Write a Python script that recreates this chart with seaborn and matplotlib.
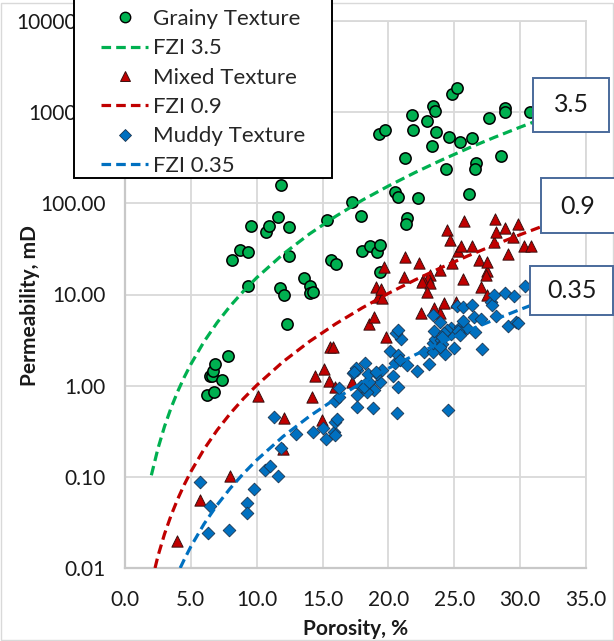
import matplotlib
matplotlib.use("Agg")
import matplotlib.pyplot as plt
import seaborn as sns
import pandas as pd
from matplotlib.patches import Rectangle
from matplotlib.lines import Line2D
from matplotlib.ticker import FixedLocator, NullLocator

# ---------------- data ----------------
grainy_phi = [6.21, 6.72, 6.47, 6.60, 6.67, 6.85, 7.36, 7.79, 8.14, 8.70, 9.34, 9.31, 9.57,
              10.71, 10.91, 11.62, 11.85, 11.80, 12.10, 12.30, 12.48, 12.48, 13.60, 14.08,
              14.03, 14.28, 15.35, 15.65, 16.03, 17.20, 17.88, 17.96, 18.59, 19.10, 19.35,
              19.35, 19.25, 19.73, 20.50, 20.75, 21.26, 21.39, 21.31, 21.82, 21.89, 22.27,
              22.93, 23.31, 23.39, 23.54, 23.59, 24.35, 24.63, 24.83, 25.21, 25.42, 26.10,
              26.33, 26.66, 26.61, 27.60, 28.52, 28.82, 28.87, 30.72]
grainy_k = [0.80, 0.85, 1.28, 1.28, 1.46, 1.73, 1.15, 2.1, 24, 31, 29, 12.4, 57,
            49, 56, 70, 157, 11.7, 9.9, 4.7, 55, 26.5, 15, 12.4,
            10.4, 10.7, 65, 24, 21.5, 104, 73, 29.9, 33.9, 29.1, 35.0,
            17.7, 571, 643, 132, 117, 318, 69, 59, 940, 632, 114,
            800, 422, 1166, 1021, 611, 240, 533, 1567, 1825, 470, 125,
            526, 280, 240, 861, 334, 1119, 1002, 1013]

mixed_phi = [3.98, 5.71, 7.99, 10.12, 11.97, 12.05, 14.18, 14.46, 14.97, 15.09, 15.47, 15.98,
             17.22, 15.53, 15.78, 18.52, 18.90, 19.79, 19.20, 19.53, 19.03, 19.41, 19.66,
             21.26, 21.18, 22.32, 22.45, 23.16, 23.00, 22.66, 22.58, 23.16, 22.91, 23.46,
             23.92, 24.22, 25.11, 23.92, 24.83, 24.48, 24.68, 25.29, 25.49, 25.67, 25.75,
             26.38, 26.84, 27.02, 27.47, 27.47, 27.42, 27.52, 28.03, 28.18, 28.10, 28.87,
             29.05, 29.43, 29.81, 30.31, 30.82]
mixed_k = [0.020, 0.056, 0.101, 0.776, 0.201, 0.447, 0.746, 1.29, 0.421, 1.51, 1.13, 0.975,
           1.11, 2.67, 2.67, 4.8, 5.7, 3.39, 9.4, 9.2, 12.0, 11.4, 20.1,
           25.9, 15.6, 21.9, 6.2, 16.3, 15.0, 14.4, 13.6, 13.4, 10.7, 7.2,
           6.3, 8.0, 8.3, 18.5, 22.3, 50.7, 40.1, 29.9, 33.9, 14.9, 64,
           33.9, 23.8, 12.0, 9.8, 18.2, 16.3, 22.8, 37.8, 47.9, 67, 54,
           27.7, 42.9, 59, 34.1, 34.1]

muddy_phi = [5.66, 6.29, 6.49, 7.91, 9.26, 9.26, 9.77, 10.65, 11.04, 11.62, 11.29, 11.87,
             13.01, 14.28, 15.04, 15.24, 15.85, 15.98, 15.91, 16.11, 15.98, 16.23, 16.23,
             17.30, 17.63, 17.63, 17.58, 17.50, 17.38, 18.19, 18.85, 18.90, 18.39, 18.26,
             17.94, 18.14, 19.35, 19.10, 19.53, 18.52, 18.44, 19.03, 20.11, 20.33, 20.47,
             20.72, 20.88, 20.75, 20.62, 20.93, 20.55, 20.72, 21.44, 22.20, 22.70, 23.06,
             23.36, 24.28, 24.99, 23.42, 23.52, 23.46, 24.02, 24.10, 23.92, 24.73, 24.73,
             24.43, 24.22, 24.10, 25.44, 25.69, 25.95, 25.29, 26.56, 25.44, 25.65, 23.36,
             23.92, 25.24, 25.65, 26.38, 27.78, 27.90, 26.51, 27.02, 28.16, 29.09, 29.68,
             29.81, 27.12, 24.53, 28.84, 29.55, 27.98, 30.39]
muddy_k = [0.0875, 0.0245, 0.0473, 0.0262, 0.0515, 0.0406, 0.074, 0.119, 0.132, 0.103, 0.457, 0.209,
           0.294, 0.309, 0.341, 0.259, 0.313, 0.288, 0.404, 0.428, 0.686, 0.759, 0.94,
           1.37, 1.48, 0.79, 0.589, 1.55, 1.42, 1.76, 0.574, 0.897, 0.859, 1.06,
           0.987, 0.955, 1.09, 1.34, 1.49, 1.11, 1.34, 1.42, 2.40, 1.28, 1.76,
           2.17, 1.91, 0.975, 0.499, 3.22, 3.80, 4.07, 1.69, 1.46, 2.36, 1.72,
           2.36, 2.22, 2.61, 2.96, 3.24, 4.00, 3.16, 2.86, 2.67, 4.26, 3.73,
           4.07, 3.80, 3.43, 4.43, 4.07, 4.26, 4.00, 3.90, 3.59, 5.15, 5.94,
           5.02, 7.46, 7.22, 7.65, 8.3, 7.65, 5.61, 5.33, 5.80, 4.51, 5.02,
           4.90, 2.51, 0.542, 10.4, 9.68, 10.0, 12.4]

fzi35_phi = [2.0, 2.5, 3, 3.5, 4, 4.5, 5, 6, 7, 8, 9, 10, 12, 14, 16, 18, 20, 22, 24, 26, 28, 30, 31.05]
fzi35_k = [0.104, 0.204, 0.357, 0.572, 0.863, 1.24, 1.72, 3.04, 4.93, 7.51, 10.9, 15.3, 27.7,
           46.1, 72.1, 108, 155, 217, 297, 399, 526, 685, 782]
fzi09_phi = [2.28, 2.5, 3, 3.5, 4, 4.5, 5, 6, 7, 8, 9, 10, 12, 14, 16, 18, 20, 22, 24, 26, 28, 30, 31.6]
fzi09_k = [0.0100, 0.0135, 0.0236, 0.0378, 0.0570, 0.0821, 0.114, 0.201, 0.326, 0.497, 0.723,
           1.01, 1.83, 3.05, 4.77, 7.12, 10.3, 14.4, 19.7, 26.4, 34.8, 45.3, 55.4]
fzi035_phi = [4.19, 4.5, 5, 6, 7, 8, 9, 10, 12, 14, 16, 18, 20, 22, 24, 26, 28, 30, 30.8]
fzi035_k = [0.0100, 0.0124, 0.0172, 0.0304, 0.0493, 0.0751, 0.109, 0.153, 0.277, 0.461, 0.721,
            1.08, 1.55, 2.17, 2.97, 3.99, 5.26, 6.85, 7.58]

series_names = ["Grainy Texture", "Mixed Texture", "Muddy Texture"]
curve_names = ["FZI 3.5", "FZI 0.9", "FZI 0.35"]
box_labels = ["3.5", "0.9", "0.35"]
x_ticks = [0, 5, 10, 15, 20, 25, 30, 35]
y_ticks = [0.01, 0.1, 1, 10, 100, 1000, 10000]
x_label = "Porosity, %"
y_label = "Permeability, mD"

# ---------------- style ----------------
sns.set_style("white")
plt.rcParams["font.family"] = ["Lato", "DejaVu Sans"]
FS = 15
LFS = 16
GREEN, RED, BLUE = "#00B050", "#C00000", "#0070C0"
GRID = "#D9D9D9"
W, H = 614, 641

fig = plt.figure(figsize=(6.14, 6.41), dpi=100)
fig.patch.set_facecolor("white")
ax = fig.add_axes([125 / W, 1 - 568 / H, (586 - 125) / W, (568 - 21) / H])

dash = (0, (3.0, 1.6))

g_df = pd.DataFrame({"phi": grainy_phi, "k": grainy_k})
m_df = pd.DataFrame({"phi": mixed_phi, "k": mixed_k})
d_df = pd.DataFrame({"phi": muddy_phi, "k": muddy_k})
c1 = pd.DataFrame({"phi": fzi35_phi, "k": fzi35_k})
c2 = pd.DataFrame({"phi": fzi09_phi, "k": fzi09_k})
c3 = pd.DataFrame({"phi": fzi035_phi, "k": fzi035_k})

sns.scatterplot(data=g_df, x="phi", y="k", ax=ax, marker="o", color=GREEN, s=66,
                edgecolor="black", linewidth=1.1, zorder=3, legend=False)
sns.lineplot(data=c1, x="phi", y="k", ax=ax, color=GREEN, lw=2.3, linestyle=dash,
             sort=False, errorbar=None, zorder=4, legend=False)
sns.scatterplot(data=m_df, x="phi", y="k", ax=ax, marker="^", color=RED, s=66,
                edgecolor="#3a1010", linewidth=0.7, zorder=3, legend=False)
sns.lineplot(data=c2, x="phi", y="k", ax=ax, color=RED, lw=2.3, linestyle=dash,
             sort=False, errorbar=None, zorder=4, legend=False)
sns.scatterplot(data=d_df, x="phi", y="k", ax=ax, marker="D", color=BLUE, s=42,
                edgecolor="#1c3550", linewidth=0.6, zorder=3, legend=False)
sns.lineplot(data=c3, x="phi", y="k", ax=ax, color=BLUE, lw=2.3, linestyle=dash,
             sort=False, errorbar=None, zorder=4, legend=False)

ax.set_yscale("log")
ax.set_xlim(0, 35)
ax.set_ylim(0.01, 10000)
ax.xaxis.set_major_locator(FixedLocator(x_ticks))
ax.set_xticklabels([f"{v:.1f}" for v in x_ticks])
ax.yaxis.set_major_locator(FixedLocator(y_ticks))
ax.yaxis.set_minor_locator(NullLocator())
ax.set_yticklabels([f"{v:.2f}" for v in y_ticks])
ax.tick_params(axis="both", length=0, labelsize=FS, colors="#1a1a1a")
ax.tick_params(axis="x", pad=16)
ax.tick_params(axis="y", pad=14)
ax.grid(True, which="major", color=GRID, lw=1.3)
ax.set_axisbelow(True)
for side in ["top", "right"]:
    ax.spines[side].set_color(GRID)
    ax.spines[side].set_linewidth(1.3)
for side in ["left", "bottom"]:
    ax.spines[side].set_color("#C8C8C8")
    ax.spines[side].set_linewidth(1.6)

ax.set_xlabel(x_label, fontsize=FS, fontweight="bold", color="#1a1a1a")
ax.set_ylabel(y_label, fontsize=FS, fontweight="bold", color="#1a1a1a")
ax.xaxis.set_label_coords(0.5, -0.094)
ax.yaxis.set_label_coords(-0.185, 0.48)

# ---------------- legend ----------------
fig.add_artist(Rectangle((74 / W, 1 - 178 / H), (332 - 74) / W, 190 / H,
                         transform=fig.transFigure, facecolor="white",
                         edgecolor="black", lw=1.4, zorder=9))
handles = [
    Line2D([], [], ls="none", marker="o", ms=7.5, mfc=GREEN, mec="black", mew=1.0),
    Line2D([], [], color=GREEN, lw=2.3, ls=dash),
    Line2D([], [], ls="none", marker="^", ms=7.5, mfc=RED, mec="#3a1010", mew=0.7),
    Line2D([], [], color=RED, lw=2.3, ls=dash),
    Line2D([], [], ls="none", marker="D", ms=6, mfc=BLUE, mec="#1c3550", mew=0.6),
    Line2D([], [], color=BLUE, lw=2.3, ls=dash),
]
labels = [series_names[0], curve_names[0], series_names[1], curve_names[1],
          series_names[2], curve_names[2]]
leg = fig.legend(handles, labels, loc="upper left",
                 bbox_to_anchor=(101 / W, 1 - 9 / H),
                 fontsize=LFS, frameon=False, borderpad=0,
                 handlelength=2.12, handletextpad=0.23, labelspacing=0.42,
                 borderaxespad=0)
leg.set_zorder(10)

# ---------------- boxed curve labels ----------------
boxes = [(533, 78, 609, 132), (541, 178, 620, 233), (530, 266, 613, 315)]
centers = [(571, 105), (578, 206), (572, 291)]
for (x0, y0, x1, y1), (cx, cy), txt in zip(boxes, centers, box_labels):
    rect = Rectangle((x0 / W, 1 - y1 / H), (x1 - x0) / W, (y1 - y0) / H,
                     transform=fig.transFigure, facecolor="white",
                     edgecolor="#4A6A9B", lw=1.4, zorder=8)
    fig.add_artist(rect)
    t = fig.text(cx / W, 1 - cy / H, txt, ha="center", va="center",
                 fontsize=18, color="#1a1a1a")
    t.set_zorder(9)

# outer chart border
fig.add_artist(Rectangle((0.001, 0.001), 0.997, 0.994, transform=fig.transFigure,
                         fill=False, edgecolor=GRID, lw=1.0, zorder=0))

fig.savefig("out.png", dpi=100, facecolor="white")
